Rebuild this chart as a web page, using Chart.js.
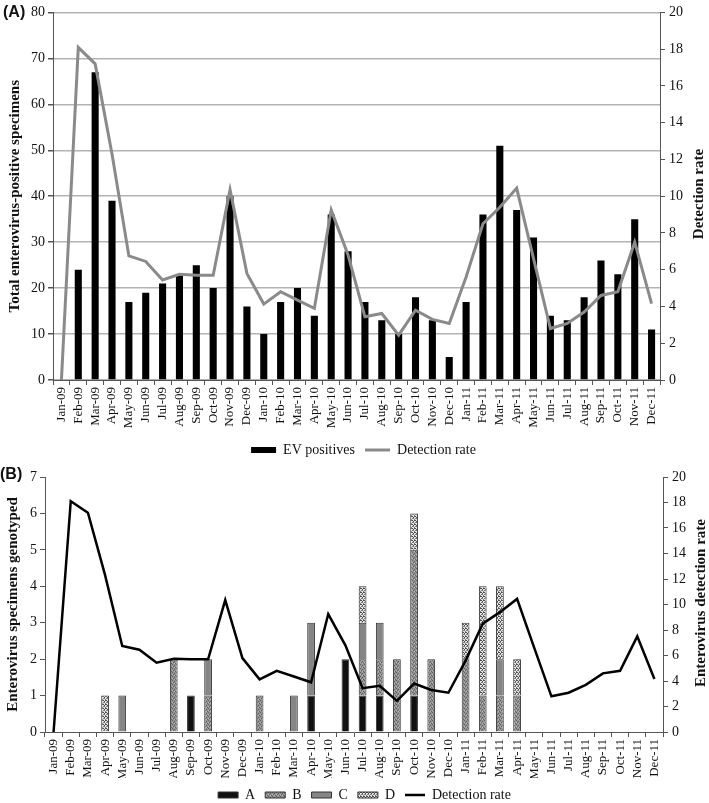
<!DOCTYPE html>
<html><head><meta charset="utf-8">
<script src="https://cdn.jsdelivr.net/npm/chart.js@4.4.1/dist/chart.umd.min.js"></script>
<style>
html,body{margin:0;padding:0;overflow:hidden;background:#fff;width:709px;height:803px;position:relative}
#ca{position:absolute;left:0;top:0}
#cb{position:absolute;left:0;top:460px}
.lab{position:absolute;font:bold 16px "Liberation Sans",Arial,sans-serif;color:#111}
.rt{position:absolute;transform:translate(-50%,-50%) rotate(-90deg);white-space:nowrap;
    font:bold 15px "Liberation Serif","Times New Roman",serif;color:#111}
</style></head><body>
<canvas id="ca" width="709" height="467"></canvas>
<canvas id="cb" width="709" height="352"></canvas>
<div class="lab" style="left:3px;top:3px">(A)</div>
<div class="lab" style="left:0px;top:465px">(B)</div>
<div class="rt" style="left:698px;top:194px">Detection rate</div>
<div class="rt" style="left:700px;top:603px">Enterovirus detection rate</div>
<script>
const months = ["Jan-09","Feb-09","Mar-09","Apr-09","May-09","Jun-09","Jul-09","Aug-09","Sep-09","Oct-09","Nov-09","Dec-09",
"Jan-10","Feb-10","Mar-10","Apr-10","May-10","Jun-10","Jul-10","Aug-10","Sep-10","Oct-10","Nov-10","Dec-10",
"Jan-11","Feb-11","Mar-11","Apr-11","May-11","Jun-11","Jul-11","Aug-11","Sep-11","Oct-11","Nov-11","Dec-11"];
const evPositives = [0,24,67,39,17,19,21,23,25,20,40,16, 10,17,20,14,36,28,17,13,10,18,13,5, 17,36,51,37,31,14,13,18,26,23,35,11];
const detectionRate = [0,18.1,17.2,12.3,6.75,6.45,5.44,5.75,5.7,5.7,10.35,5.8, 4.13,4.8,4.35,3.9,9.25,6.8,3.44,3.62,2.44,3.8,3.3,3.08, 5.6,8.5,9.4,10.44,6.6,2.8,3.08,3.7,4.6,4.8,7.5,4.16];
const genoA = [0,0,0,0,0,0,0,0,1,0,0,0, 0,0,0,1,0,2,1,1,0,1,0,0, 0,0,0,0,0,0,0,0,0,0,0,0];
const genoB = [0,0,0,0,0,0,0,2,0,1,0,0, 1,0,0,0,0,0,1,1,2,4,2,0, 2,1,1,1,0,0,0,0,0,0,0,0];
const genoC = [0,0,0,0,1,0,0,0,0,1,0,0, 0,0,1,2,0,0,1,1,0,0,0,0, 0,0,1,0,0,0,0,0,0,0,0,0];
const genoD = [0,0,0,1,0,0,0,0,0,0,0,0, 0,0,0,0,0,0,1,0,0,1,0,0, 1,3,2,1,0,0,0,0,0,0,0,0];

Chart.defaults.font.family = '"Liberation Serif","Times New Roman",serif';
Chart.defaults.font.size = 13;
Chart.defaults.color = '#222';

function pattern(kind){
  const c = document.createElement('canvas');
  const g = c.getContext('2d');
  if(kind==='B'){
    c.width=4;c.height=4;
    g.fillStyle='#939393';g.fillRect(0,0,4,4);
    g.fillStyle='#5e5e5e';
    g.fillRect(0,0,1,1);g.fillRect(2,1,1,1);g.fillRect(1,2,1,1);g.fillRect(3,3,1,1);
    g.fillStyle='#b8b8b8';
    g.fillRect(2,3,1,1);g.fillRect(0,2,1,1);
  } else {
    c.width=6;c.height=4;
    g.fillStyle='#e4e4e4';g.fillRect(0,0,6,4);
    g.fillStyle='#4e4e4e';
    g.fillRect(0,0,2,1);g.fillRect(2,1,1,1);g.fillRect(3,0,2,1);g.fillRect(5,1,1,1);
    g.fillStyle='#7e7e7e';
    g.fillRect(1,2,2,1);g.fillRect(3,3,1,1);g.fillRect(4,2,2,1);g.fillRect(0,3,1,1);
  }
  return g.createPattern(c,'repeat');
}

const shiftLegend = {
  id:'shiftLegend',
  afterLayout(chart, args, opts){
    if(chart.legend){ chart.legend.left += opts.dx||0; chart.legend.right += opts.dx||0; }
  }
};

const axisColor = '#555';

new Chart(document.getElementById('ca'), {
  type:'bar',
  data:{labels:months, datasets:[
    {label:'EV positives', data:evPositives, backgroundColor:'#000', borderWidth:0, yAxisID:'y', order:1,
     barPercentage:0.42, categoryPercentage:1, pointStyle:'rect'},
    {label:'Detection rate', type:'line', data:detectionRate, borderColor:'#8a8a8a', backgroundColor:'#8a8a8a', borderWidth:3,
     pointRadius:0, tension:0, yAxisID:'y1', order:0, pointStyle:'line'}
  ]},
  options:{
    responsive:false, animation:false, devicePixelRatio:1,
    layout:{padding:{top:10,left:0,right:0,bottom:0}},
    plugins:{
      legend:{position:'bottom', labels:{usePointStyle:true, pointStyleWidth:25, boxHeight:6, padding:10, color:'#111',
        font:{size:14}, sort:(a,b)=>a.datasetIndex-b.datasetIndex}},
      tooltip:{enabled:false},
      shiftLegend:{dx:9}
    },
    scales:{
      x:{grid:{display:true, drawOnChartArea:false, tickLength:5, color:axisColor, offset:true},
         border:{display:true,color:axisColor},
         ticks:{minRotation:90,maxRotation:90,autoSkip:false,padding:2,color:'#111',font:{size:13}},
         afterFit:(s)=>{s.height=53;}},
      y:{position:'left', min:0, max:80, ticks:{stepSize:10, padding:3, color:'#111', font:{size:14}},
         grid:{color:'#b3b3b3', lineWidth:1.5, tickColor:axisColor, tickLength:5},
         border:{display:true,color:axisColor},
         title:{display:true,text:'Total enterovirus-positive specimens',font:{size:15,weight:'bold'},color:'#111',padding:{top:6,bottom:0}},
         afterFit:(s)=>{s.width=53;}},
      y1:{position:'right', min:0, max:20, ticks:{stepSize:2, padding:4, color:'#111', font:{size:14}},
         grid:{drawOnChartArea:false, tickColor:axisColor, tickLength:5},
         border:{display:true,color:axisColor},
         afterFit:(s)=>{s.width=49;}}
    }
  },
  plugins:[shiftLegend]
});

const barCommon = {barPercentage:0.45, categoryPercentage:1, borderColor:'#333', borderWidth:1, yAxisID:'y', stack:'g', order:1, pointStyle:'rect'};
new Chart(document.getElementById('cb'), {
  type:'bar',
  data:{labels:months, datasets:[
    Object.assign({label:'A', data:genoA, backgroundColor:'#111'}, barCommon),
    Object.assign({label:'B', data:genoB, backgroundColor:pattern('B')}, barCommon),
    Object.assign({label:'C', data:genoC, backgroundColor:'#858585'}, barCommon),
    Object.assign({label:'D', data:genoD, backgroundColor:pattern('D')}, barCommon),
    {label:'Detection rate', type:'line', data:detectionRate, borderColor:'#000', backgroundColor:'#000', borderWidth:2.5,
     pointRadius:0, tension:0, yAxisID:'y1', order:0, pointStyle:'line'}
  ]},
  options:{
    responsive:false, animation:false, devicePixelRatio:1,
    layout:{padding:{top:17,left:0,right:0,bottom:0}},
    plugins:{
      legend:{position:'bottom', labels:{usePointStyle:true, pointStyleWidth:20, boxHeight:6, padding:10, color:'#111',
        font:{size:14}, sort:(a,b)=>a.datasetIndex-b.datasetIndex}},
      tooltip:{enabled:false},
      shiftLegend:{dx:10}
    },
    scales:{
      x:{stacked:true, grid:{display:true, drawOnChartArea:false, tickLength:5, color:axisColor, offset:true},
         border:{display:true,color:axisColor},
         ticks:{minRotation:90,maxRotation:90,autoSkip:false,padding:2,color:'#111',font:{size:13}},
         afterFit:(s)=>{s.height=46;}},
      y:{stacked:true, position:'left', min:0, max:7, ticks:{stepSize:1, padding:3, color:'#111', font:{size:14}},
         grid:{drawOnChartArea:false, tickColor:axisColor, tickLength:5},
         border:{display:true,color:axisColor},
         title:{display:true,text:'Enterovirus specimens genotyped',font:{size:15,weight:'bold'},color:'#111',padding:{top:4,bottom:0}},
         afterFit:(s)=>{s.width=45;}},
      y1:{stacked:false, position:'right', min:0, max:20, ticks:{stepSize:2, padding:4, color:'#111', font:{size:14}},
         grid:{drawOnChartArea:false, tickColor:axisColor, tickLength:5},
         border:{display:true,color:axisColor},
         afterFit:(s)=>{s.width=46;}}
    }
  },
  plugins:[shiftLegend]
});
</script>
</body></html>
